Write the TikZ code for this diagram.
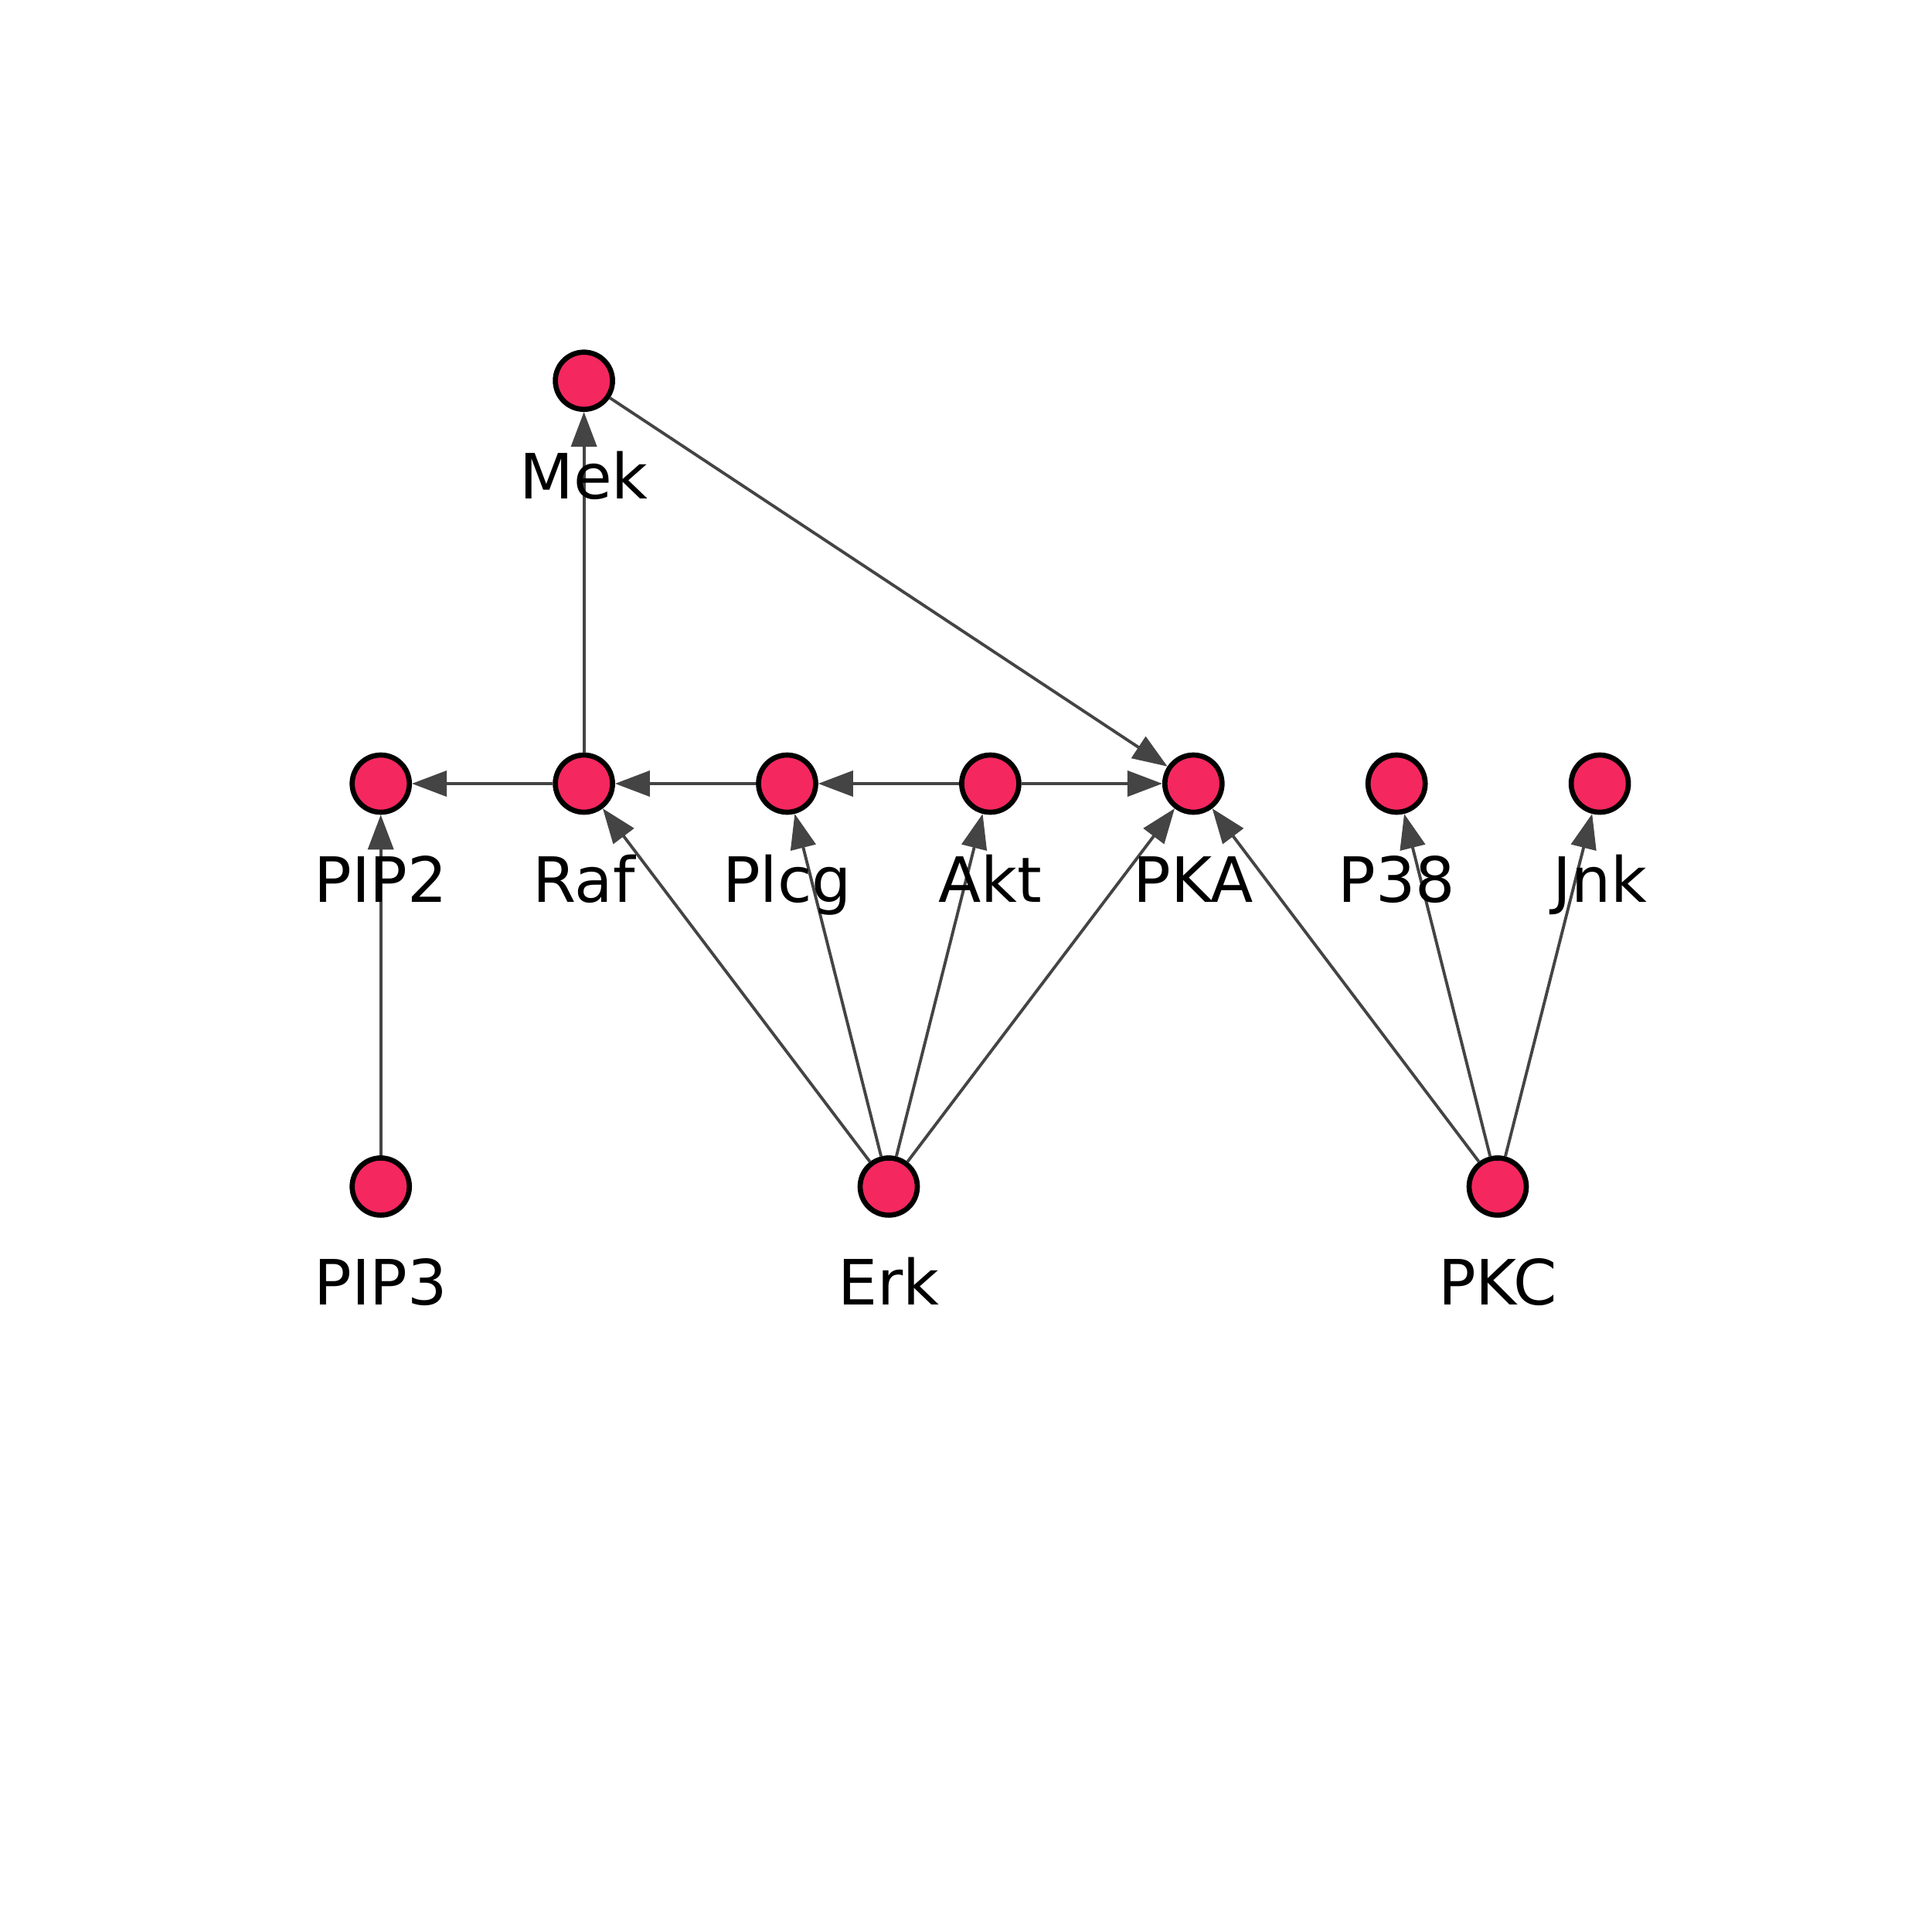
\documentclass[tikz,border=0pt]{standalone}
\usepackage{fontspec}
\setmainfont{DejaVu Sans}
\usetikzlibrary{arrows.meta}

\definecolor{genefill}{HTML}{F5275F}
\definecolor{edgegray}{HTML}{444444}

\begin{document}
\begin{tikzpicture}[
  gene/.style={circle, minimum size=0.74cm, inner sep=0pt, draw=black, line width=1.9pt, fill=genefill},
  genetext/.style={font=\fontsize{23}{27}\selectfont, text=black, inner sep=0pt, anchor=base},
  link/.style={draw=edgegray, line width=1.1pt, -{Triangle[length=0.45cm, width=0.33cm]}}
]

\useasboundingbox (0, 0) rectangle (25, -25);

\node[gene] (Mek) at (7.556, -4.927) {};

\node[gene] (PIP2) at (4.927, -10.14) {};
\node[gene] (Raf) at (7.556, -10.14) {};
\node[gene] (Plcg) at (10.185, -10.14) {};
\node[gene] (Akt) at (12.814, -10.14) {};
\node[gene] (PKA) at (15.443, -10.14) {};
\node[gene] (P38) at (18.072, -10.14) {};
\node[gene] (Jnk) at (20.701, -10.14) {};

\node[gene] (PIP3) at (4.927, -15.354) {};
\node[gene] (Erk) at (11.50, -15.354) {};
\node[gene] (PKC) at (19.38, -15.354) {};

\draw[link] (Raf) -- (Mek);
\draw[link] (Mek) -- (PKA);
\draw[link] (Raf) -- (PIP2);
\draw[link] (Plcg) -- (Raf);
\draw[link] (Akt) -- (Plcg);
\draw[link] (Akt) -- (PKA);
\draw[link] (PIP3) -- (PIP2);
\draw[link] (Erk) -- (Raf);
\draw[link] (Erk) -- (Plcg);
\draw[link] (Erk) -- (Akt);
\draw[link] (Erk) -- (PKA);
\draw[link] (PKC) -- (PKA);
\draw[link] (PKC) -- (P38);
\draw[link] (PKC) -- (Jnk);

\node[genetext] (MekLabel) at (7.556, -6.457) {Mek};
\node[genetext] (PIP2Label) at (4.927, -11.67) {PIP2};
\node[genetext] (RafLabel) at (7.556, -11.67) {Raf};
\node[genetext] (PlcgLabel) at (10.185, -11.67) {Plcg};
\node[genetext] (AktLabel) at (12.814, -11.67) {Akt};
\node[genetext] (PKALabel) at (15.443, -11.67) {PKA};
\node[genetext] (P38Label) at (18.072, -11.67) {P38};
\node[genetext] (JnkLabel) at (20.701, -11.67) {Jnk};
\node[genetext] (PIP3Label) at (4.927, -16.884) {PIP3};
\node[genetext] (ErkLabel) at (11.50, -16.884) {Erk};
\node[genetext] (PKCLabel) at (19.38, -16.884) {PKC};

\end{tikzpicture}
\end{document}
